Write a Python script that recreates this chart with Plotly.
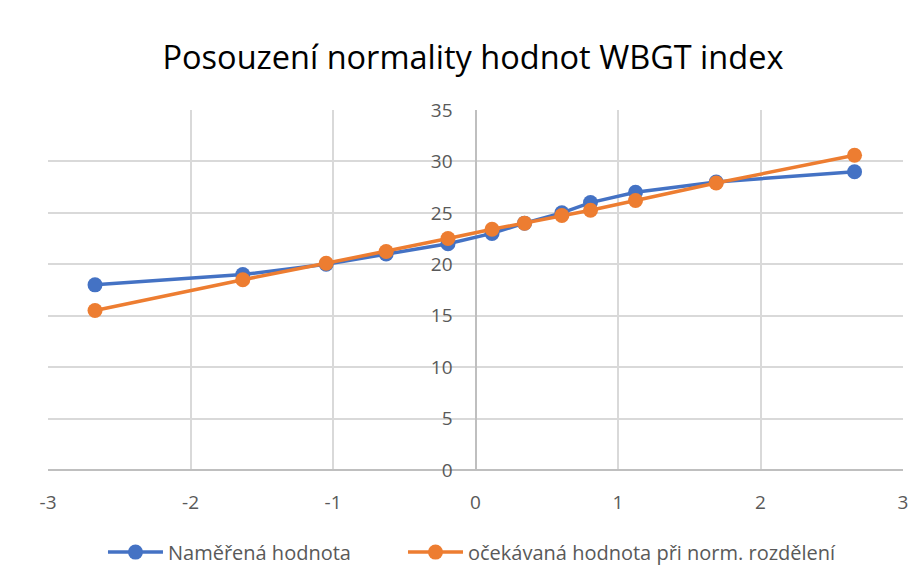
import plotly.graph_objects as go

# normal quantiles (x) vs measured / expected WBGT values
z = [-2.67, -1.633, -1.048, -0.627, -0.193, 0.116, 0.344, 0.606, 0.807, 1.123, 1.689, 2.66]
measured = [18, 19, 20, 21, 22, 23, 24, 25, 26, 27, 28, 29]
expected = [15.5, 18.5, 20.1, 21.25, 22.5, 23.4, 24.0, 24.75, 25.25, 26.2, 27.9, 30.6]

BLUE = '#4472C4'
ORANGE = '#ED7D31'
GRID = '#D9D9D9'
TEXT = '#595959'
FONT = 'Open Sans, Segoe UI, sans-serif'

fig = go.Figure()

fig.add_trace(go.Scatter(
    x=z, y=measured,
    mode='lines+markers',
    name='Naměřená hodnota',
    line=dict(color=BLUE, width=3.5),
    marker=dict(size=15, color=BLUE),
    legend='legend'
))

fig.add_trace(go.Scatter(
    x=z, y=expected,
    mode='lines+markers',
    name='očekávaná hodnota při norm. rozdělení',
    line=dict(color=ORANGE, width=3.5),
    marker=dict(size=15, color=ORANGE),
    legend='legend2'
))

xticks = [-3, -2, -1, 0, 1, 2, 3]
legend_style = dict(
    orientation='h', xanchor='left', y=-0.228, yanchor='middle',
    font=dict(size=20, color=TEXT), itemwidth=55
)

# page body has an 8px margin, so the figure is 8px smaller than the window
fig.update_layout(
    width=916, height=579,
    margin=dict(l=40, r=21, t=102, b=117),
    paper_bgcolor='white',
    plot_bgcolor='white',
    font=dict(family=FONT, color=TEXT, size=19),
    title=dict(
        text='Posouzení normality hodnot WBGT index',
        x=0.5076, xanchor='center', y=0.914, yanchor='middle',
        font=dict(family=FONT, size=32.5, color='black')
    ),
    xaxis=dict(
        range=[-3, 3], tickvals=xticks, ticktext=[str(v) for v in xticks],
        showgrid=True, gridcolor=GRID, gridwidth=1.5,
        zeroline=True, zerolinecolor='#BFBFBF', zerolinewidth=1.5,
        showline=False, ticks='', ticklabelstandoff=19,
        tickfont=dict(size=19, color=TEXT), automargin=False
    ),
    yaxis=dict(
        range=[0, 35], dtick=5,
        showgrid=True, gridcolor=GRID, gridwidth=1.5,
        zeroline=True, zerolinecolor='#BFBFBF', zerolinewidth=1.5,
        anchor='free', position=0.5,
        showline=False, ticks='', ticklabelstandoff=23,
        tickfont=dict(size=19, color=TEXT), automargin=False
    ),
    showlegend=True,
    legend=dict(x=0.0643, **legend_style),
    legend2=dict(x=0.4152, **legend_style)
)

fig.write_html("out.html")
